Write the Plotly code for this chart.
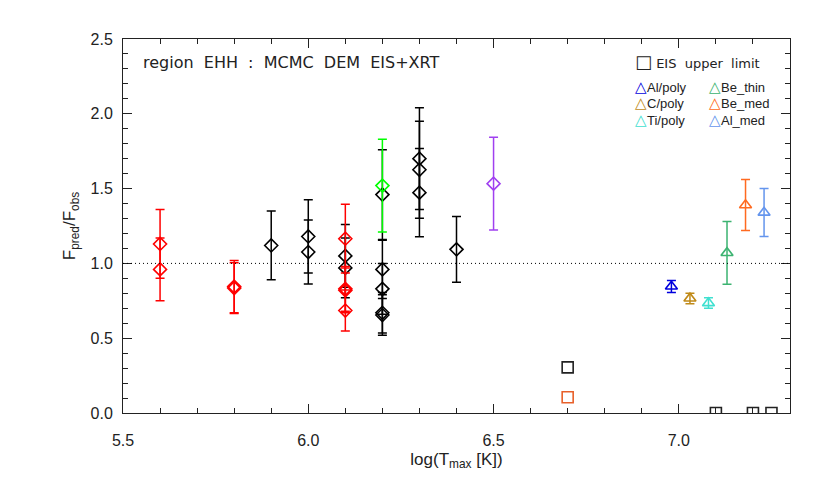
import plotly.graph_objects as go

# ---------------- data ----------------
red_x = [5.6, 5.6, 5.8, 5.8, 6.1, 6.1, 6.1, 6.1]
red_y = [1.13, 0.96, 0.845, 0.835, 1.165, 0.83, 0.82, 0.685]
red_e = [0.23, 0.21, 0.175, 0.17, 0.23, 0.15, 0.15, 0.137]

black_x = [5.9, 6.0, 6.0, 6.1, 6.1, 6.2, 6.2, 6.2, 6.2, 6.2, 6.3, 6.3, 6.3, 6.4]
black_y = [1.12, 1.18, 1.076, 1.05, 0.97, 1.46, 0.96, 0.83, 0.67, 0.655, 1.70, 1.626, 1.473, 1.094]
black_e = [0.23, 0.245, 0.214, 0.21, 0.2, 0.30, 0.195, 0.17, 0.136, 0.136, 0.34, 0.325, 0.295, 0.22]

green_x = [6.2]
green_y = [1.52]
green_e = [0.31]

purple_x = [6.5]
purple_y = [1.533]
purple_e = [0.31]

eis_black_x = [6.7, 7.1, 7.2, 7.25]
eis_black_y = [0.305, 0.0, 0.0, 0.0]
eis_orange_x = [6.7]
eis_orange_y = [0.105]

xrt_names = ["Al/poly", "C/poly", "Ti/poly", "Be_thin", "Be_med", "Al_med"]
xrt_x = [6.98, 7.03, 7.08, 7.13, 7.18, 7.23]
xrt_y = [0.846, 0.766, 0.735, 1.07, 1.39, 1.34]
xrt_e = [0.04, 0.035, 0.035, 0.21, 0.17, 0.16]
xrt_colors = ["#0000dd", "#c08a18", "#40e0d0", "#3cb371", "#ff6a20", "#6495ed"]

title_text = "region EHH : MCMC DEM EIS+XRT"
legend_eis = "EIS upper limit"
x_ticks = [5.5, 6.0, 6.5, 7.0]
y_ticks = [0.0, 0.5, 1.0, 1.5, 2.0, 2.5]

FONT = "Liberation Sans, Arial, sans-serif"
FONT2 = "DejaVu Sans, sans-serif"
WIDE = " &nbsp;"

fig = go.Figure()


def add_err(x, y, e, color, symbol, size):
    fig.add_trace(go.Scatter(
        x=x, y=y, mode="markers",
        marker=dict(symbol=symbol, size=size, color=color,
                    line=dict(color=color, width=1.6)),
        error_y=dict(type="data", array=e, visible=True, color=color,
                     thickness=1.5, width=4.5),
        showlegend=False, hoverinfo="skip"))


add_err(black_x, black_y, black_e, "#000000", "diamond-open", 10)
add_err(red_x, red_y, red_e, "#ff0000", "diamond-open", 10)
add_err(green_x, green_y, green_e, "#00ff00", "diamond-open", 10)
add_err(purple_x, purple_y, purple_e, "#a040f0", "diamond-open", 10)

fig.add_trace(go.Scatter(x=eis_black_x, y=eis_black_y, mode="markers",
                         marker=dict(symbol="square-open", size=11, color="#222222",
                                     line=dict(color="#222222", width=1.6)),
                         showlegend=False, hoverinfo="skip"))
fig.add_trace(go.Scatter(x=eis_orange_x, y=eis_orange_y, mode="markers",
                         marker=dict(symbol="square-open", size=11, color="#e8602a",
                                     line=dict(color="#e8602a", width=1.6)),
                         showlegend=False, hoverinfo="skip"))

for i in range(len(xrt_names)):
    add_err([xrt_x[i]], [xrt_y[i]], [xrt_e[i]], xrt_colors[i], "triangle-up-open", 10.5)

# dotted unity line
fig.add_shape(type="line", xref="paper", x0=0, x1=1, yref="y", y0=1, y1=1,
              line=dict(color="black", width=1, dash="1px,3px"))

# title annotation
fig.add_annotation(text=title_text.replace(" ", WIDE), xref="paper", yref="paper",
                   x=0.027, y=0.937, xanchor="left", yanchor="middle", showarrow=False,
                   font=dict(family=FONT2, size=16, color="#222222"))

# legend (as annotations)
fig.add_annotation(text="<span style='font-size:18px'>□</span> " + legend_eis.replace(" ", WIDE),
                   xref="paper", yref="paper", x=0.765, y=0.941,
                   xanchor="left", yanchor="middle", showarrow=False,
                   font=dict(family=FONT2, size=13, color="#222222"))
col_x = [0.764, 0.876]
row_y = [0.874, 0.830, 0.786]
for i, name in enumerate(xrt_names):
    c = i // 3
    r = i % 3
    fig.add_annotation(
        text=f"<span style='color:{xrt_colors[i]};font-size:15px'>△</span>{name}",
        xref="paper", yref="paper", x=col_x[c], y=row_y[r],
        xanchor="left", yanchor="middle", showarrow=False,
        font=dict(family=FONT, size=13, color="#222222"))

axis_common = dict(
    showline=True, linecolor="#222222", linewidth=1, mirror="ticks",
    ticks="inside", ticklen=9, tickwidth=1, tickcolor="#222222",
    showgrid=False, zeroline=False,
    minor=dict(ticks="inside", ticklen=5, dtick=0.1, tickcolor="#222222", showgrid=False),
    tickfont=dict(family=FONT, size=16, color="#222222"),
)

fig.update_xaxes(range=[5.5, 7.3], tickvals=x_ticks,
                 ticktext=[f"{v:.1f}" for v in x_ticks],
                 ticklabelstandoff=13,
                 title=dict(text="log(T<sub>max</sub> [K])", standoff=4,
                            font=dict(family=FONT, size=17, color="#222222")),
                 **axis_common)
fig.update_yaxes(range=[0, 2.5], tickvals=y_ticks,
                 ticktext=[f"{v:.1f}" for v in y_ticks],
                 ticklabelstandoff=6,
                 title=dict(text="F<sub>pred</sub>/F<sub>obs</sub>", standoff=10,
                            font=dict(family=FONT, size=17, color="#222222")),
                 **axis_common)

fig.update_layout(width=827, height=491,
                  margin=dict(l=115, r=45, t=31, b=86),
                  plot_bgcolor="white", paper_bgcolor="white",
                  showlegend=False)

fig.write_html("out.html")
